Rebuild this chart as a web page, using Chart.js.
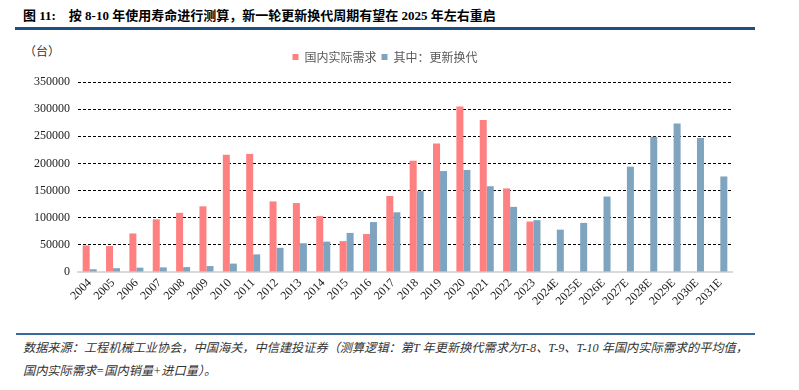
<!DOCTYPE html>
<html>
<head>
<meta charset="utf-8">
<script src="https://cdn.jsdelivr.net/npm/chart.js@4.4.0/dist/chart.umd.min.js"></script>
<style>
  body { margin: 0; background: #fff; width: 799px; height: 390px; position: relative; overflow: hidden; }
  #title { position: absolute; left: 23px; top: 5px; font: bold 13px "Liberation Serif", "Noto Sans CJK SC", sans-serif; color: #000; white-space: nowrap; }
  #titleLine { position: absolute; left: 15px; top: 27px; width: 740px; height: 3px; background: #1d4f84; }
  #unit { position: absolute; left: 24px; top: 42px; font: 12px "Noto Sans CJK SC", sans-serif; color: #333; }
  #chartBox { position: absolute; left: 0; top: 35px; width: 799px; height: 272px; }
  #footLine { position: absolute; left: 16px; top: 333px; width: 739px; height: 2px; background: #3a6898; }
  .foot { position: absolute; left: 23px; font: italic 12.2px "Liberation Serif", "Noto Sans CJK SC", serif; color: #333; white-space: nowrap; }
</style>
</head>
<body>
<div id="title">图 11:&nbsp;&nbsp;&nbsp;&nbsp;按 8-10 年使用寿命进行测算，新一轮更新换代周期有望在 2025 年左右重启</div>
<div id="titleLine"></div>
<div id="unit">（台）</div>
<div id="chartBox"><canvas id="chart"></canvas></div>
<div id="footLine"></div>
<div class="foot" style="top:338px">数据来源：工程机械工业协会，中国海关，中信建投证券（测算逻辑：第T 年更新换代需求为T-8、T-9、T-10 年国内实际需求的平均值，</div>
<div class="foot" style="top:361px">国内实际需求=国内销量+进口量）。</div>

<script>
// 年份
const years = ["2004", "2005", "2006", "2007", "2008", "2009", "2010", "2011", "2012", "2013",
    "2014", "2015", "2016", "2017", "2018", "2019", "2020", "2021", "2022", "2023",
    "2024E", "2025E", "2026E", "2027E", "2028E", "2029E", "2030E", "2031E"];

// 国内实际需求 (台)
const actualDemand = [49000, 48000, 71000, 97000, 109000, 121000, 216000, 217500, 130000, 127000,
    103000, 57000, 70000, 140000, 205000, 236500, 305000, 280000, 154000, 93000,
    null, null, null, null, null, null, null, null];

// 其中：更新换代 (台)
const replacement = [5000, 7000, 8000, 8500, 9000, 11000, 15500, 32500, 44500, 53000,
    56000, 72000, 92000, 110000, 149000, 186000, 188000, 158000, 120000, 95500,
    78000, 90500, 139000, 194000, 249000, 273500, 247000, 176000];

const yTicks = [0, 50000, 100000, 150000, 200000, 250000, 300000, 350000];

const serif = "'Liberation Serif', 'Times New Roman', serif";

// fixed legend height, and legend centred a bit right like the reference
const legendPlacePlugin = {
    id: "legendPlace",
    beforeInit(chart) {
        const fit = chart.legend.fit;
        chart.legend.fit = function() {
            fit.bind(chart.legend)();
            this.height = 36;
        };
    },
    afterLayout(chart) {
        chart.legend.left = 38;
    }
};

new Chart(document.getElementById("chart"), {
    type: "bar",
    data: {
        labels: years,
        datasets: [
            {
                label: "国内实际需求",
                data: actualDemand,
                backgroundColor: "#ff8080",
                categoryPercentage: 0.6,
                barPercentage: 1.0
            },
            {
                label: "其中：更新换代",
                data: replacement,
                backgroundColor: "#7fa4bf",
                categoryPercentage: 0.6,
                barPercentage: 1.0
            }
        ]
    },
    plugins: [legendPlacePlugin],
    options: {
        responsive: true,
        maintainAspectRatio: false,
        animation: false,
        layout: { padding: { left: 0, right: 67, top: 11, bottom: 0 } },
        plugins: {
            legend: {
                position: "top",
                align: "center",
                labels: {
                    boxWidth: 6,
                    boxHeight: 6,
                    padding: 5,
                    color: "#595959",
                    font: { family: "'Noto Sans CJK SC', sans-serif", size: 12 }
                }
            },
            tooltip: { enabled: false }
        },
        scales: {
            x: {
                grid: { color: "rgba(0,0,0,0)", drawTicks: false },
                border: { display: true, color: "#d9d9d9", width: 2 },
                ticks: {
                    color: "#222",
                    font: { family: serif, size: 12 },
                    minRotation: 45,
                    maxRotation: 45,
                    padding: 4,
                    autoSkip: false
                },
                afterFit(scale) { scale.height = 35; }
            },
            y: {
                min: 0,
                max: 350000,
                afterBuildTicks(scale) { scale.ticks = yTicks.map(v => ({ value: v })); },
                grid: {
                    color: ctx => ctx.tick && ctx.tick.value === 0 ? "rgba(0,0,0,0)" : "#000",
                    lineWidth: 1,
                    drawTicks: false
                },
                border: { display: false, dash: [3, 2] },
                ticks: {
                    color: "#222",
                    font: { family: serif, size: 12 },
                    padding: 8,
                    callback: v => String(v)
                },
                afterFit(scale) { scale.width = 78; }
            }
        }
    }
});
</script>
</body>
</html>
